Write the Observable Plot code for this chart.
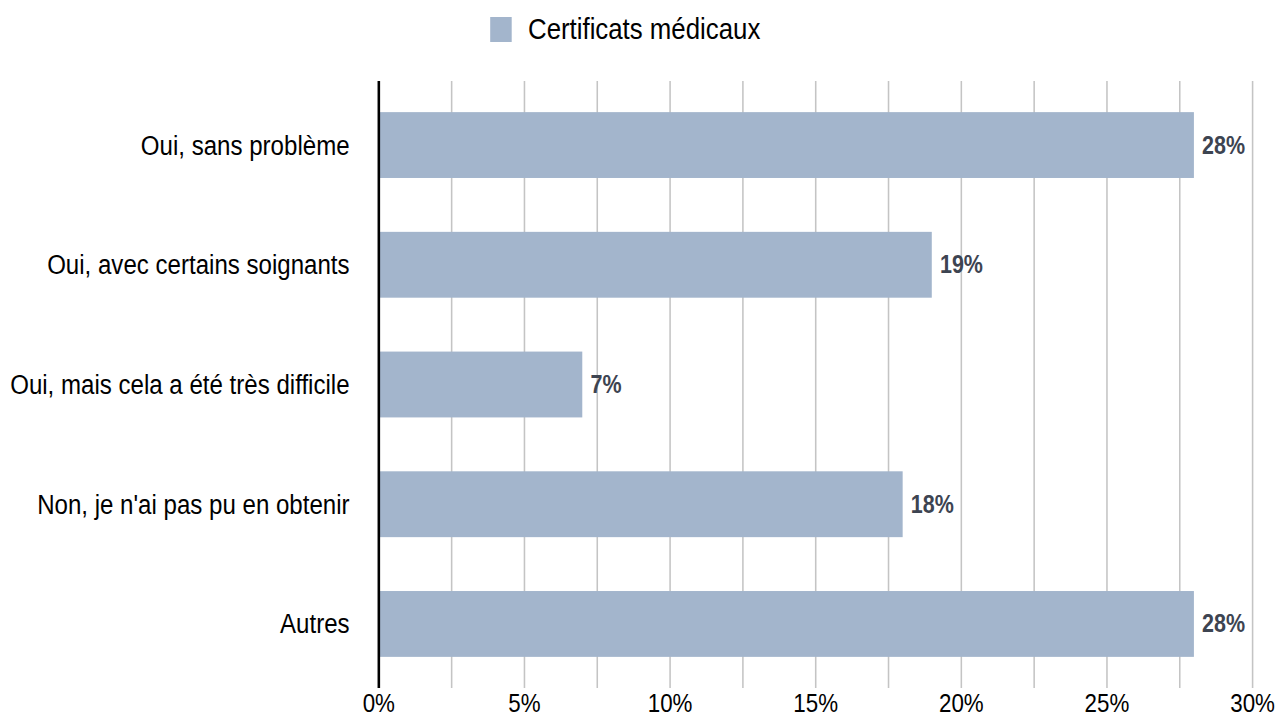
<!DOCTYPE html>
<html>
<head>
<meta charset="utf-8">
<script src="https://cdn.jsdelivr.net/npm/d3@7"></script>
<script src="https://cdn.jsdelivr.net/npm/@observablehq/plot@0.6"></script>
<style>
  html, body { margin: 0; padding: 0; background: #fff; overflow: hidden; }
  #wrap { width: 1490px; transform: scale(0.86, 1); transform-origin: 0 0;
          font-family: "Liberation Sans", Arial, Helvetica, sans-serif; }
  #legend { height: 60px; display: flex; justify-content: center; align-items: flex-start;
            padding-right: 36px; box-sizing: border-box; }
  #legend .item { display: flex; align-items: center; margin-top: 12px; }
  #legend .sw { width: 25px; height: 25px; margin-right: 19px; }
  #legend .lb { font-size: 30px; color: #000; }
</style>
</head>
<body>
<div id="wrap">
  <div id="legend"></div>
  <div id="chart"></div>
</div>
<script>
const seriesName = "Certificats médicaux";
const categories = [
  "Oui, sans problème",
  "Oui, avec certains soignants",
  "Oui, mais cela a été très difficile",
  "Non, je n'ai pas pu en obtenir",
  "Autres"
];
const values = [28, 19, 7, 18, 28];
const xTicks = [0, 5, 10, 15, 20, 25, 30];
const gridTicks = [0, 2.5, 5, 7.5, 10, 12.5, 15, 17.5, 20, 22.5, 25, 27.5, 30];
const barColor = "#a3b5cc";

const data = categories.map((c, i) => ({category: c, value: values[i]}));

const legend = document.getElementById("legend");
legend.innerHTML = `<div class="item"><div class="sw" style="background:${barColor}"></div><div class="lb">${seriesName}</div></div>`;

const chart = Plot.plot({
  width: 1490,
  height: 659,
  marginTop: 21,
  marginBottom: 31,
  marginLeft: 440,
  marginRight: 34,
  style: {fontFamily: '"Liberation Sans", Arial, Helvetica, sans-serif', background: "#fff", overflow: "visible"},
  x: {domain: [0, 30]},
  y: {domain: categories, paddingInner: 0.45, paddingOuter: 0.26, round: false},
  marks: [
    Plot.ruleX(gridTicks, {stroke: "#c4c4c4", strokeWidth: 1.8}),
    Plot.barX(data, {y: "category", x: "value", fill: barColor}),
    Plot.ruleX([0], {stroke: "#000", strokeWidth: 3}),
    Plot.text(data, {y: "category", x: "value", text: d => d.value + "%", dx: 9, textAnchor: "start",
      fontWeight: "bold", fontSize: 25, fill: "#3d4451"}),
    Plot.axisX({ticks: xTicks, tickSize: 0, tickPadding: 5, tickFormat: d => d + "%", fontSize: 26, fill: "#000", label: null}),
    Plot.axisY({tickSize: 0, tickPadding: 34, fontSize: 28, fill: "#000", label: null})
  ]
});
document.getElementById("chart").appendChild(chart);
</script>
</body>
</html>
